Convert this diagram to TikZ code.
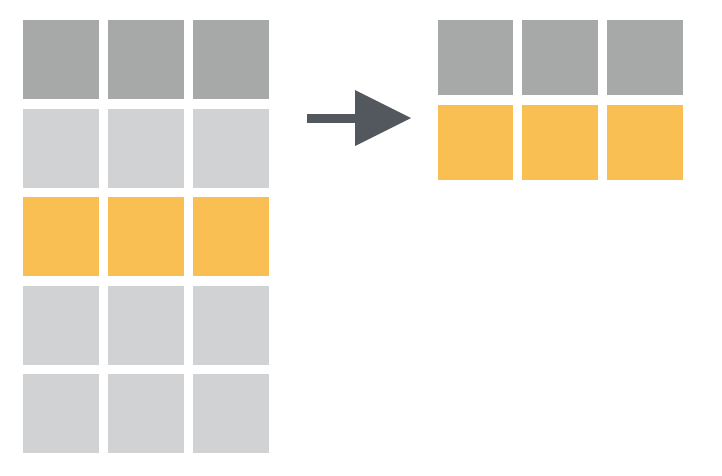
\documentclass[tikz,border=0pt]{standalone}
\usepackage{tikz}
\usetikzlibrary{arrows.meta}
\definecolor{cellgray}{HTML}{A6A9A8}
\definecolor{celllight}{HTML}{D1D2D4}
\definecolor{cellorange}{HTML}{F9BF53}
\definecolor{arrowgray}{HTML}{53575E}

\begin{document}
\begin{tikzpicture}[
	x=1pt, y=-1pt,
	cell/.style={inner sep=0pt, minimum width=76pt, minimum height=79pt},
	small cell/.style={inner sep=0pt, minimum width=75.5pt, minimum height=75pt}
	]
	\useasboundingbox (0,0) rectangle (722,475);
	
	% input table
	\foreach \c in {0,1,2} {
		\node[cell, fill=cellgray] (in-1-\c) at (61+85*\c, 59.5) {};
		\node[cell, fill=celllight] (in-2-\c) at (61+85*\c, 148) {};
		\node[cell, fill=cellorange] (in-3-\c) at (61+85*\c, 236.5) {};
		\node[cell, fill=celllight] (in-4-\c) at (61+85*\c, 325) {};
		\node[cell, fill=celllight] (in-5-\c) at (61+85*\c, 413.5) {};
	}
	
	% output table
	\foreach \c in {0,1,2} {
		\node[small cell, fill=cellgray] (out-1-\c) at (475.5+84.7*\c, 57.5) {};
		\node[small cell, fill=cellorange] (out-2-\c) at (475.5+84.7*\c, 142.5) {};
	}
	
	\coordinate (arrow-from) at (307,118);
	\coordinate (arrow-to) at (411,118);
	\draw[color=arrowgray, line width=9pt,
		-{Triangle[length=56pt, width=56pt, line width=0pt]}]
		(arrow-from) -- (arrow-to);
\end{tikzpicture}
\end{document}
